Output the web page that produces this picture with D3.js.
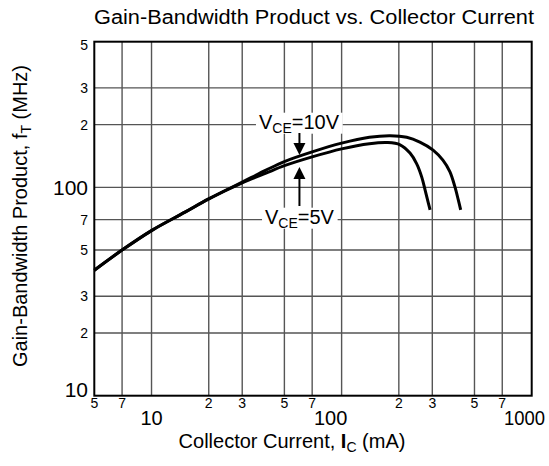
<!DOCTYPE html>
<html><head><meta charset="utf-8">
<script src="https://cdn.jsdelivr.net/npm/d3@7"></script>
<style>body{margin:0;background:#fff} svg{display:block;font-family:"Liberation Sans",Arial,sans-serif}</style>
</head><body><svg id="c" width="549" height="466"></svg>
<script>
// ---- data ----
const chartTitle = "Gain-Bandwidth Product vs. Collector Current";
const xGrid = [7, 10, 20, 30, 50, 70, 100, 200, 300, 500, 700];
const yGrid = [20, 30, 50, 70, 100, 200, 300];
const xMinorTicks = [5, 7, 20, 30, 50, 70, 200, 300, 500, 700];
const xMinorLabels = ["5", "7", "2", "3", "5", "7", "2", "3", "5", "7"];
const xMajorTicks = [10, 100, 1000];
const xMajorLabels = ["10", "100", "1000"];
const yTicks = [500, 300, 200, 100, 70, 50, 30, 20, 10];
const yTickLabels = ["5", "3", "2", "100", "7", "5", "3", "2", "10"];
const current10V = [5, 7, 10, 15, 20, 30, 40, 50, 70, 100, 140, 180, 220, 258, 303, 341, 371, 394, 411, 423];
const fT10V      = [40, 50, 62, 76, 88, 106, 121, 133, 148, 163, 174, 177, 174, 165, 151, 135, 119, 101, 87, 78];
const current5V  = [5, 7, 10, 15, 20, 30, 40, 50, 70, 100, 140, 175, 203, 229, 248, 264, 275, 286, 292];
const fT5V       = [40, 50, 62, 76, 88, 105, 117, 127, 140, 153, 162, 164, 160, 146, 130, 112, 97, 84, 78];
const arrowCurrent = 60;

// ---- layout ----
const svg = d3.select("#c");
svg.append("rect").attr("width",549).attr("height",466).attr("fill","#fff");
const L = 94.3, R = 531.7, T = 41.7, B = 395.7;
const x = d3.scaleLog().domain([5, 1000]).range([L, R]);
const y = d3.scaleLog().domain([10, 500]).range([B, T]);

// grid
const g = svg.append("g");
g.selectAll(".vx").data(xGrid).join("line")
  .attr("x1", d => x(d)).attr("x2", d => x(d)).attr("y1", T).attr("y2", B)
  .attr("stroke", "#555").attr("stroke-width", 1.4);
g.selectAll(".hy").data(yGrid).join("line")
  .attr("y1", d => y(d)).attr("y2", d => y(d)).attr("x1", L).attr("x2", R)
  .attr("stroke", "#555").attr("stroke-width", 1.4);

// curves
const line = d3.line().x(d => x(d[0])).y(d => y(d[1])).curve(d3.curveCatmullRom.alpha(0.5));
const s10 = current10V.map((c, i) => [c, fT10V[i]]);
const s5 = current5V.map((c, i) => [c, fT5V[i]]);
[s10, s5].forEach(s => svg.append("path").datum(s).attr("d", line)
  .attr("fill", "none").attr("stroke", "#000").attr("stroke-width", 3));

// frame
svg.append("rect").attr("x", L).attr("y", T).attr("width", R - L).attr("height", B - T)
  .attr("fill", "none").attr("stroke", "#000").attr("stroke-width", 2);

// x tick labels
svg.selectAll(".xm").data(xMinorTicks).join("text")
  .attr("x", d => x(d)).attr("y", 408).attr("text-anchor", "middle")
  .attr("font-size", 14).text((d, i) => xMinorLabels[i]);
const majOff = [0, -11, 0];
svg.selectAll(".xM").data(xMajorTicks).join("text")
  .attr("x", (d, i) => i === 2 ? 504 : x(d) + majOff[i]).attr("y", 425)
  .attr("text-anchor", (d, i) => i === 2 ? "start" : "middle")
  .attr("font-size", 20)
  .each(function(d, i) { if (i === 2) d3.select(this).attr("textLength", 41).attr("lengthAdjust", "spacingAndGlyphs"); })
  .text((d, i) => xMajorLabels[i]);

// y tick labels
svg.selectAll(".yl").data(yTicks).join("text")
  .attr("x", 88).attr("y", (d, i) => y(d) + (i === 0 ? 3 : 0) + (i === yTicks.length - 1 ? -6 : 0))
  .attr("text-anchor", "end").attr("dominant-baseline", "central")
  .attr("font-size", (d, i) => yTickLabels[i].length > 1 ? 21 : 14)
  .text((d, i) => yTickLabels[i]);

// title
svg.append("text").attr("x", 314).attr("y", 24).attr("text-anchor", "middle")
  .attr("font-size", 20).attr("textLength", 440).attr("lengthAdjust", "spacingAndGlyphs")
  .text(chartTitle);

// x axis title
const xt = svg.append("text").attr("x", 292).attr("y", 448).attr("text-anchor", "middle").attr("font-size", 20);
xt.append("tspan").text("Collector Current, ");
xt.append("tspan").attr("font-weight", "bold").text("I");
xt.append("tspan").attr("font-size", 14).attr("dy", 4).text("C");
xt.append("tspan").attr("dy", -4).text(" (mA)");

// y axis title
const yt = svg.append("text").attr("transform", "translate(27,216) rotate(-90)")
  .attr("text-anchor", "middle").attr("font-size", 20);
yt.append("tspan").text("Gain-Bandwidth Product, f");
yt.append("tspan").attr("font-size", 14).attr("dy", 4).text("T");
yt.append("tspan").attr("dy", -4).text(" (MHz)");

// annotations
function vLabel(cx, cy, rest) {
  const grp = svg.append("g");
  const bg = grp.append("rect").attr("fill", "#fff");
  const t = grp.append("text").attr("x", cx).attr("y", cy + 7).attr("text-anchor", "middle").attr("font-size", 20);
  t.append("tspan").text("V");
  t.append("tspan").attr("font-size", 14).attr("dy", 4).text("CE");
  t.append("tspan").attr("dy", -4).text(rest);
  const bb = t.node().getBBox();
  bg.attr("x", bb.x - 3).attr("y", bb.y + 2).attr("width", bb.width + 6).attr("height", bb.height - 4);
}
vLabel(299, 121.7, "=10V");
vLabel(299.5, 216.7, "=5V");

const ax = x(arrowCurrent);
const tip1 = 155, tip2 = 167;
svg.append("line").attr("x1", ax).attr("x2", ax).attr("y1", 133).attr("y2", tip1 - 8).attr("stroke", "#000").attr("stroke-width", 2);
svg.append("path").attr("d", `M${ax - 6},${tip1 - 12} L${ax + 6},${tip1 - 12} L${ax},${tip1} Z`).attr("fill", "#000");
svg.append("line").attr("x1", ax).attr("x2", ax).attr("y1", 206).attr("y2", tip2 + 8).attr("stroke", "#000").attr("stroke-width", 2);
svg.append("path").attr("d", `M${ax - 6},${tip2 + 12} L${ax + 6},${tip2 + 12} L${ax},${tip2} Z`).attr("fill", "#000");
</script></body></html>
